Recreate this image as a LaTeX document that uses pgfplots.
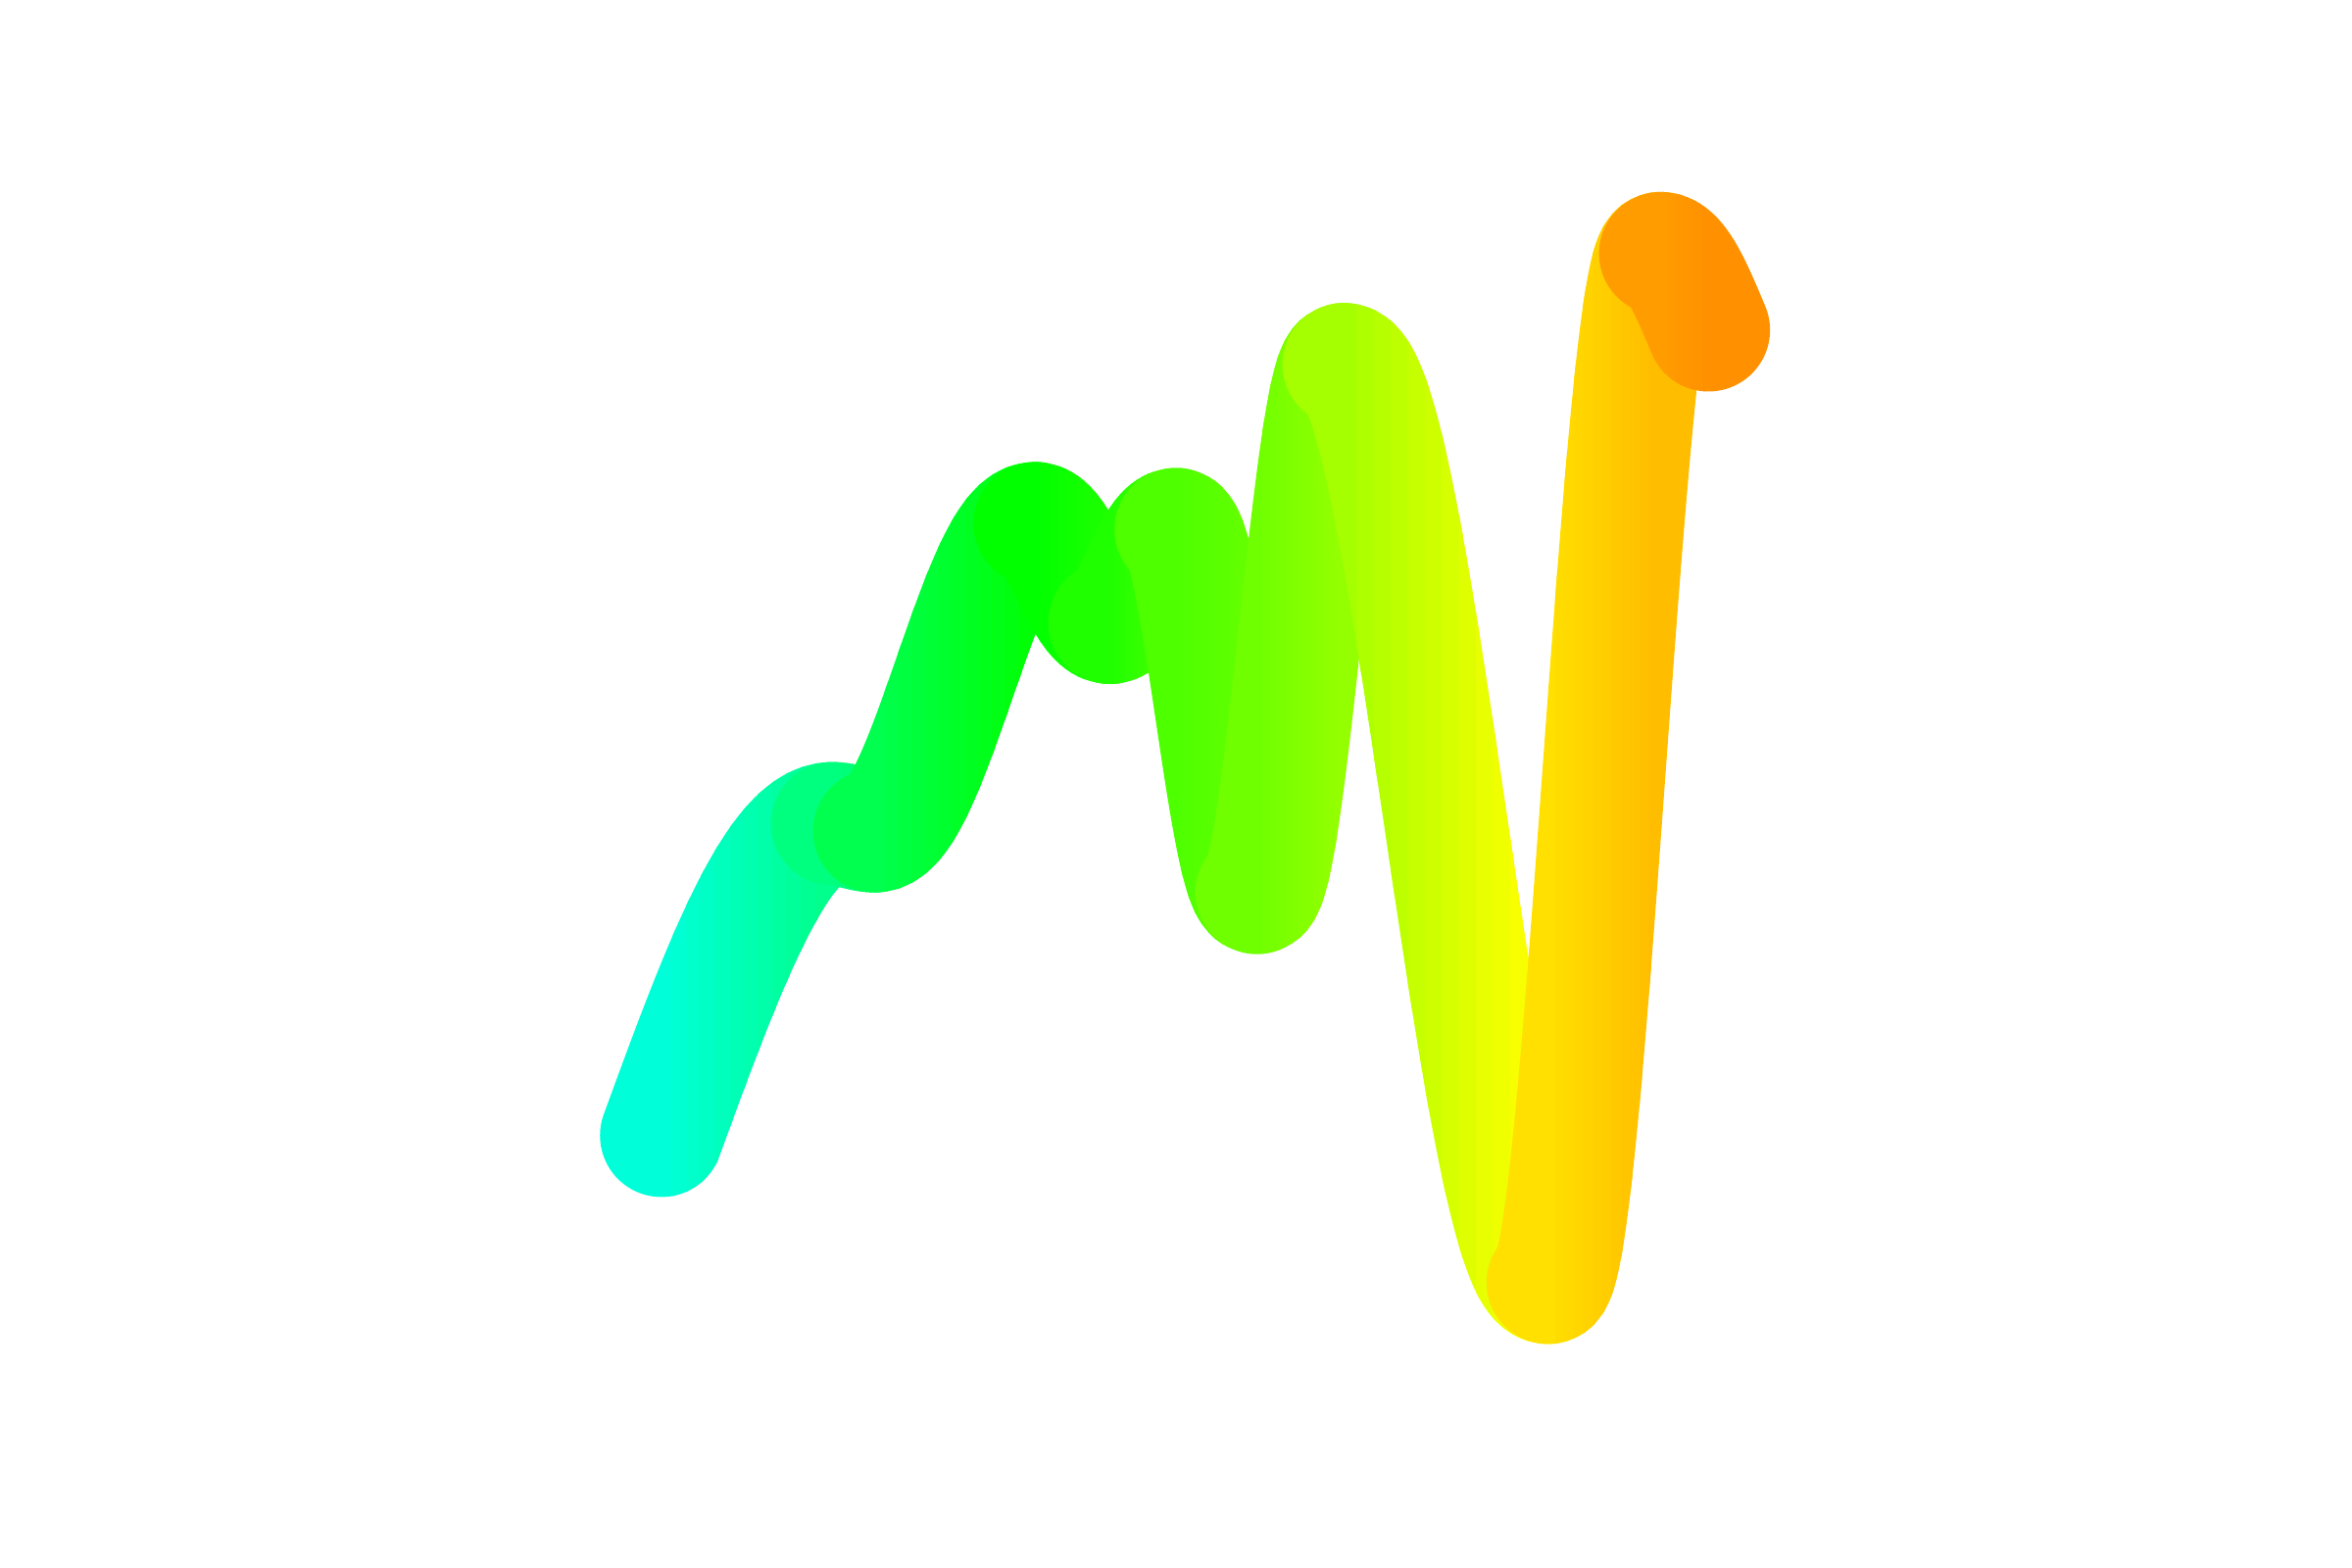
\documentclass[border=0pt]{standalone}
\usepackage{pgfplots}
\pgfplotsset{compat=1.18}
\makeatletter
\newdimen\bmp@xa \newdimen\bmp@ya \newdimen\bmp@xb \newdimen\bmp@yb
\newdimen\bmp@cxa \newdimen\bmp@cya \newdimen\bmp@cxb \newdimen\bmp@cyb
\newdimen\bmp@dx \newdimen\bmp@dy
\gdef\bmp@isfirst{1}
\gdef\bmp@mode{0}
\def\bmp@point#1{%
  \pgf@process{#1}%
  \ifnum\bmp@isfirst=1\relax
    \global\bmp@xa=\pgf@x \global\bmp@ya=\pgf@y
    \pgfpathmoveto{\pgfqpoint{\bmp@xa}{\bmp@ya}}%
    \gdef\bmp@isfirst{0}%
  \else
    \global\bmp@xb=\pgf@x \global\bmp@yb=\pgf@y
    \bmp@dx=\bmp@xb \advance\bmp@dx by -\bmp@xa \divide\bmp@dx by 3
    \bmp@dy=\bmp@yb \advance\bmp@dy by -\bmp@ya \divide\bmp@dy by 2
    \bmp@cxa=\bmp@xa \advance\bmp@cxa by \bmp@dx
    \bmp@cxb=\bmp@xb \advance\bmp@cxb by -\bmp@dx
    \bmp@cya=\bmp@ya
    \bmp@cyb=\bmp@yb
    \ifnum\bmp@mode=1\relax \advance\bmp@cya by \bmp@dy \fi
    \ifnum\bmp@mode=2\relax \advance\bmp@cyb by -\bmp@dy \fi
    \pgfpathcurveto{\pgfqpoint{\bmp@cxa}{\bmp@cya}}{\pgfqpoint{\bmp@cxb}{\bmp@cyb}}{\pgfqpoint{\bmp@xb}{\bmp@yb}}%
    \global\bmp@xa=\bmp@xb \global\bmp@ya=\bmp@yb
  \fi
}
\pgfdeclareplothandler{\pgfplothandlerbumpA}{}{start={\gdef\bmp@isfirst{1}\gdef\bmp@mode{0}}, point macro=\bmp@point}
\pgfdeclareplothandler{\pgfplothandlerbumpS}{}{start={\gdef\bmp@isfirst{1}\gdef\bmp@mode{1}}, point macro=\bmp@point}
\pgfdeclareplothandler{\pgfplothandlerbumpE}{}{start={\gdef\bmp@isfirst{1}\gdef\bmp@mode{2}}, point macro=\bmp@point}
\tikzset{
  bumpA/.code={\let\tikz@plot@handler=\pgfplothandlerbumpA},
  bumpS/.code={\let\tikz@plot@handler=\pgfplothandlerbumpS},
  bumpE/.code={\let\tikz@plot@handler=\pgfplothandlerbumpE},
}
\makeatother
% one segment, drawn in 12 vertical colour strips
% #1 x0, #2 y0, #3 x1, #4 y1, #5 hue start, #6 hue end, #7 curve style
\newcommand\seg[7]{%
  \pgfplotsforeachungrouped \k in {0,...,11}{%
    \pgfmathsetmacro\xa{(\k==0) ? 0 : #1+(#3-#1)*(\k-0.25)/12}%
    \pgfmathsetmacro\xb{(\k==11) ? 1568 : #1+(#3-#1)*(\k+1)/12}%
    \pgfmathsetmacro\hh{#5+(#6-#5)*(\k+0.5)/12}%
    \pgfmathtruncatemacro\cR{round(255*max(0,min(1,(120-\hh)/60)))}%
    \pgfmathtruncatemacro\cG{round(255*max(0,min(1,\hh/60)))}%
    \pgfmathtruncatemacro\cB{round(255*max(0,min(1,(\hh-120)/60)))}%
    \edef\doit{\noexpand\begin{scope}\noexpand\clip (axis cs:\xa,0) rectangle (axis cs:\xb,1045);
      \noexpand\addplot[#7, line width=8.2mm, line cap=round, line join=round, color={rgb,255:red,\cR;green,\cG;blue,\cB}] coordinates {(#1,#2) (#3,#4)};
      \noexpand\end{scope}}%
    \doit
  }%
}
\begin{document}
\begin{tikzpicture}
\begin{axis}[
  width=15.68cm, height=10.45cm, scale only axis,
  xmin=0, xmax=1568, ymin=0, ymax=1045,
  hide axis, clip=false,
]
\seg{441}{288}{555}{496}{172}{152}{bumpS}
\seg{555}{496}{583}{491}{150}{145}{bumpA}
\seg{583}{491}{690}{696}{139}{121}{bumpA}
\seg{690}{696}{740}{630}{120}{113}{bumpA}
\seg{740}{630}{784}{692}{113}{102}{bumpA}
\seg{784}{692}{838}{450}{102}{96}{bumpA}
\seg{838}{450}{896}{802}{94}{85}{bumpA}
\seg{896}{802}{1032}{190}{82}{59}{bumpA}
\seg{1032}{190}{1107}{876}{53}{44}{bumpA}
\seg{1107}{876}{1139}{825}{37}{34}{bumpE}
\end{axis}
\path (current axis.south west) rectangle (current axis.north east);
\end{tikzpicture}
\end{document}
